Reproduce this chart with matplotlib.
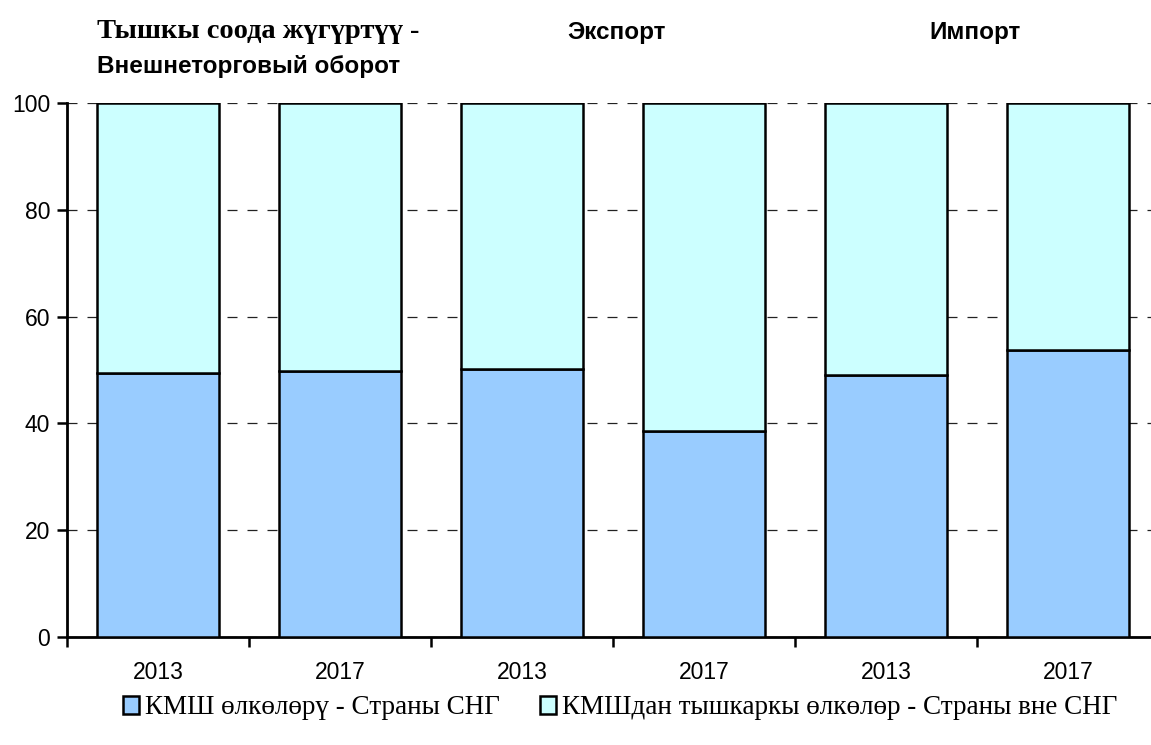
import numpy as np
import matplotlib.pyplot as plt
from matplotlib.patches import Patch

# data (shares, %)
years = ["2013", "2017", "2013", "2017", "2013", "2017"]
cis = [49.4, 49.8, 50.2, 38.6, 49.1, 53.7]
non_cis = [100 - v for v in cis]

group_titles = ["Экспорт", "Импорт"]
legend_labels = ["КМШ өлкөлөрү - Страны СНГ",
                 "КМШдан тышкаркы өлкөлөр - Страны вне СНГ"]

col_cis = "#99CCFF"
col_non = "#CCFFFF"

W, H = 1151, 745
fig = plt.figure(figsize=(W / 100, H / 100), dpi=100)
# axes box in pixels: x from 67 to 1159, y from 103 (100) to 637 (0)
ax = fig.add_axes([67 / W, 1 - 637 / H, 1092 / W, (637 - 103) / H])

x = np.arange(len(years))
bw = 0.67
ax.bar(x, cis, bw, color=col_cis, edgecolor="black", linewidth=1.8, zorder=3)
ax.bar(x, non_cis, bw, bottom=cis, color=col_non, edgecolor="black",
       linewidth=1.8, zorder=3)

ax.set_xlim(-0.5, len(years) - 0.5)
ax.set_ylim(0, 100)
ax.set_yticks([0, 20, 40, 60, 80, 100])
ax.yaxis.grid(True, linestyle=(0, (8, 8)), color="#222222", linewidth=0.9, zorder=0)

ax.set_xticks(x)
ax.set_xticklabels(years)
ax.tick_params(axis="y", direction="out", length=7, width=1.8, pad=5)
ax.tick_params(axis="x", length=0, pad=17)
for lab in ax.get_xticklabels() + ax.get_yticklabels():
    lab.set_family("Liberation Sans")
    lab.set_fontsize(16.5)
ax.set_xticks(np.arange(len(years) + 1) - 0.5, minor=True)
ax.tick_params(axis="x", which="minor", direction="out", length=7, width=1.8)

for s in ["top", "right"]:
    ax.spines[s].set_visible(False)
for s in ["left", "bottom"]:
    ax.spines[s].set_linewidth(2)

# group titles
fig.text(97 / W, 1 - 31 / H, "Тышкы соода жүгүртүү -", family="Liberation Serif",
         fontweight="bold", fontsize=20.5, ha="left", va="center")
fig.text(97 / W, 1 - 66 / H, "Внешнеторговый оборот", family="Liberation Sans",
         fontweight="bold", fontsize=17.5, ha="left", va="center")
fig.text(616 / W, 1 - 33 / H, group_titles[0], family="Liberation Sans",
         fontweight="bold", fontsize=17.5, ha="center", va="center")
fig.text(975 / W, 1 - 33 / H, group_titles[1], family="Liberation Sans",
         fontweight="bold", fontsize=17.5, ha="center", va="center")

handles = [Patch(facecolor=col_cis, edgecolor="black", linewidth=1.8),
           Patch(facecolor=col_non, edgecolor="black", linewidth=1.8)]
fig.legend(handles, legend_labels, loc="center", bbox_to_anchor=(620 / W, 1 - 708 / H),
           ncol=2, frameon=False, prop={"family": "Liberation Serif", "size": 19.5},
           handlelength=0.6, handleheight=0.6, handletextpad=0.2, columnspacing=1.5)

fig.savefig("out.png", dpi=100)
